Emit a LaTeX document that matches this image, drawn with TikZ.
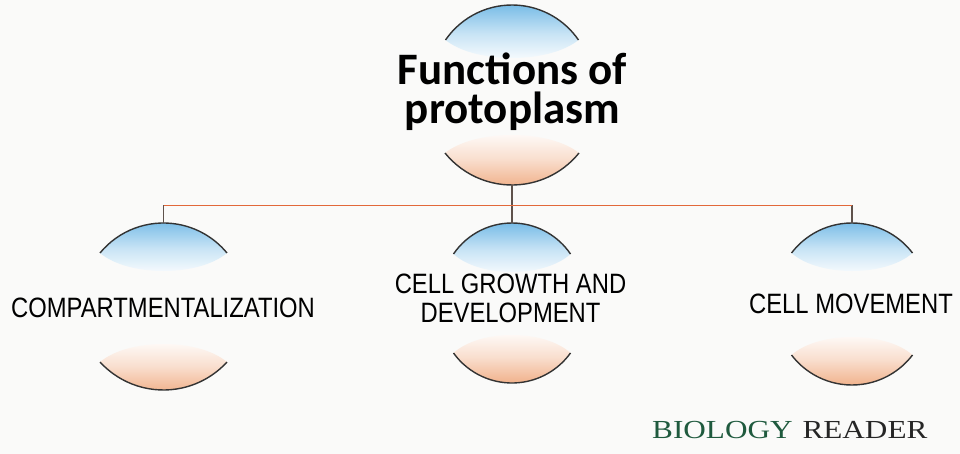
\documentclass[tikz,border=0pt]{standalone}
\usepackage{fontspec}
\setmainfont{Liberation Sans}
\newfontfamily\titlefont{Carlito}
\newfontfamily\labelfont[FakeStretch=0.85]{Liberation Sans}
\newfontfamily\brandfont[FakeStretch=1.2]{Liberation Serif}
\definecolor{lensblue}{HTML}{74BAE6}
\definecolor{lensorange}{HTML}{F0AE86}
\definecolor{arcgray}{HTML}{333333}
\definecolor{hlinecol}{HTML}{E2683A}
\definecolor{vlinecol}{HTML}{5E524C}
\definecolor{bggray}{HTML}{FAFAF9}
\definecolor{brandgreen}{HTML}{1F5A3E}
\tikzset{
  arcline/.style={draw=arcgray, line width=1.4pt},
  vline/.style={draw=vlinecol, line width=1.5pt},
  hline/.style={draw=hlinecol, line width=1.8pt},
  titletext/.style={font=\titlefont\bfseries\fontsize{45}{39}\selectfont, align=center, anchor=base, inner sep=0pt},
  labeltext/.style={font=\labelfont\fontsize{28}{29}\selectfont, align=center, anchor=base, inner sep=0pt},
}
% #1 name, #2 cx, #3 peak y, #4 end y, #5 half width
\newcommand{\lenstop}[5]{%
  \pgfmathsetmacro\lsag{#4-#3}%
  \pgfmathsetmacro\lrad{(#5*#5+\lsag*\lsag)/(2*\lsag)}%
  \pgfmathsetmacro\lth{asin(#5/\lrad)}%
  \shade[top color=lensblue, bottom color=white, middle color=lensblue!40]
    (#2-#5,#4) arc[start angle=270-\lth, end angle=270+\lth, radius=\lrad]
    .. controls (#2+0.55*#5,#4+24) and (#2-0.55*#5,#4+24) .. cycle;
  \draw[arcline] (#2-#5,#4) arc[start angle=270-\lth, end angle=270+\lth, radius=\lrad];
  \coordinate (#1) at (#2,#3);
}
\newcommand{\lensbot}[5]{%
  \pgfmathsetmacro\lsag{#3-#4}%
  \pgfmathsetmacro\lrad{(#5*#5+\lsag*\lsag)/(2*\lsag)}%
  \pgfmathsetmacro\lth{asin(#5/\lrad)}%
  \shade[bottom color=lensorange, top color=white, middle color=lensorange!40]
    (#2-#5,#4) arc[start angle=90+\lth, end angle=90-\lth, radius=\lrad]
    .. controls (#2+0.55*#5,#4-24) and (#2-0.55*#5,#4-24) .. cycle;
  \draw[arcline] (#2-#5,#4) arc[start angle=90+\lth, end angle=90-\lth, radius=\lrad];
  \coordinate (#1) at (#2,#3);
}
\begin{document}
\begin{tikzpicture}[x=1pt,y=-1pt]
\fill[bggray] (0,0) rectangle (960,454);
\useasboundingbox (0,0) rectangle (960,454);
% lenses
\lenstop{Tt}{512}{5}{40}{66.5}
\lensbot{Tb}{512}{185}{153}{67}
\lenstop{Lt}{163.5}{223}{253}{63.5}
\lensbot{Lb}{163.5}{390}{362}{63.5}
\lenstop{Mt}{512}{223}{254}{58.5}
\lensbot{Mb}{512}{383}{353}{58.5}
\lenstop{Rt}{852}{223}{253}{60.5}
\lensbot{Rb}{852}{385}{355}{60.5}
% connectors
\coordinate (J) at (512,205.5);
\coordinate (JL) at (163.5,205.5);
\coordinate (JR) at (852,205.5);
\draw[vline] (Tb) -- (J);
\draw[vline] (JL) -- (Lt);
\draw[vline] (J) -- (Mt);
\draw[vline] (JR) -- (Rt);
\draw[hline] (JL) -- (JR);
% texts (base anchor = baseline of last line)
\node[titletext] (title) at (512.5,123.5) {Functions of\\protoplasm};
\node[labeltext] (compart) at (163,317) {COMPARTMENTALIZATION};
\node[labeltext] (growth) at (510.5,322) {CELL GROWTH AND\\DEVELOPMENT};
\node[labeltext] (move) at (851,313) {CELL MOVEMENT};
\node[anchor=base west, inner sep=0pt, font=\brandfont\fontsize{26}{28}\selectfont] (brand) at (652,438) {\textcolor{brandgreen}{BIOLOGY}\hspace{10pt}\textcolor{black!85}{READER}};
\end{tikzpicture}
\end{document}
